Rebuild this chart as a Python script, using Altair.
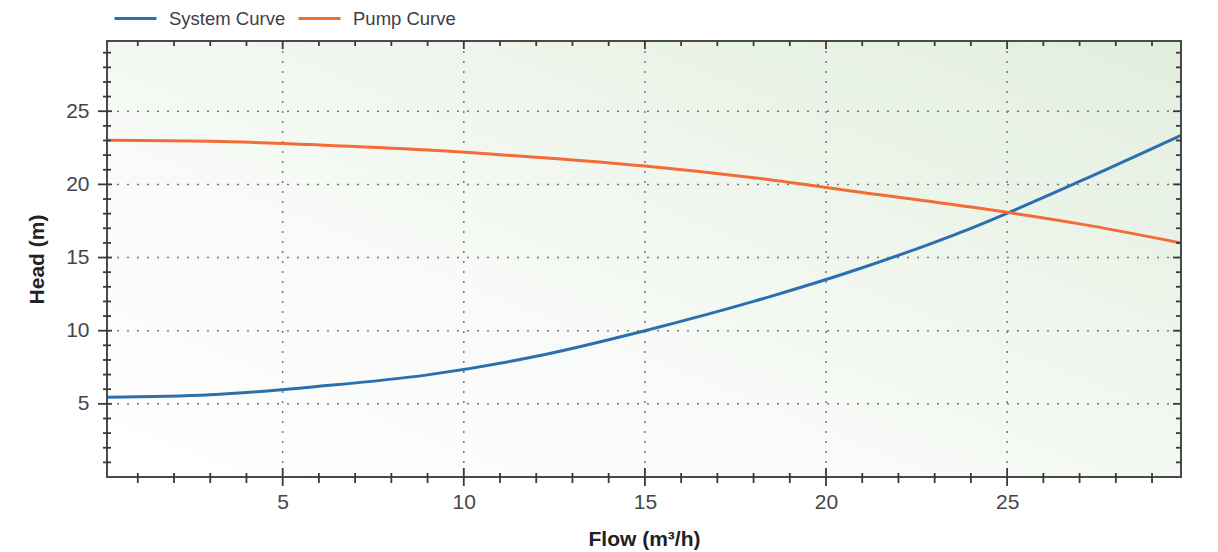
import altair as alt
import pandas as pd

# ---- data ----
flow = [0.15, 3, 6, 9, 12, 15, 18, 21, 24, 27, 29.8]
system_head = [5.45, 5.62, 6.2, 6.98, 8.25, 10.0, 12.0, 14.3, 17.0, 20.2, 23.35]
pump_head = [23.02, 22.95, 22.7, 22.35, 21.85, 21.25, 20.45, 19.45, 18.45, 17.3, 16.0]
series = ["System Curve", "Pump Curve"]
colors = ["#2b6fb0", "#f36b36"]
major_ticks = [5, 10, 15, 20, 25]
minor_ticks = [1, 2, 3, 4, 6, 7, 8, 9, 11, 12, 13, 14, 16, 17, 18, 19,
               21, 22, 23, 24, 26, 27, 28, 29]

W, H = 1074, 436
FONT = "Liberation Sans"

lines_df = pd.DataFrame({
    "x": flow + flow,
    "y": system_head + pump_head,
    "series": [series[0]] * len(flow) + [series[1]] * len(flow),
    "order": list(range(len(flow))) * 2,
})
major_df = pd.DataFrame({"x": major_ticks, "y": major_ticks})
minor_df = pd.DataFrame({"x": minor_ticks, "y": minor_ticks})
one = pd.DataFrame({"a": [0]})

xs = alt.Scale(domain=[0.15, 29.8], nice=False, zero=False)
ys = alt.Scale(domain=[0, 29.8], nice=False, zero=False)

xaxis = alt.Axis(values=major_ticks, ticks=False, domain=False, grid=False,
                 labelFontSize=21, labelFont=FONT, labelColor="#45454d",
                 labelPadding=14, title="Flow (m³/h)", titleFont=FONT,
                 titleFontSize=21, titleFontWeight="bold", titleColor="#222222",
                 titleX=W / 2, titleY=62, titleBaseline="middle")
yaxis = alt.Axis(values=major_ticks, ticks=False, domain=False, grid=False,
                 labelFontSize=21, labelFont=FONT, labelColor="#45454d",
                 labelPadding=18, title="Head (m)", titleFont=FONT,
                 titleFontSize=21, titleFontWeight="bold", titleColor="#222222",
                 titleX=-70, titleY=H / 2, titleBaseline="middle", titleAngle=-90)

def X():
    return alt.X("x:Q", scale=xs, axis=xaxis, title="Flow (m³/h)")

def Y():
    return alt.Y("y:Q", scale=ys, axis=yaxis, title="Head (m)")

bg = alt.Chart(one).mark_rect(
    fill=alt.Gradient(
        gradient="linear",
        stops=[alt.GradientStop(color="#ffffff", offset=0),
               alt.GradientStop(color="#f7faf6", offset=0.4),
               alt.GradientStop(color="#e2eede", offset=1)],
        x1=0, y1=1, x2=1, y2=0),
).encode(x=alt.value(0), x2=alt.value(W), y=alt.value(0), y2=alt.value(H))

grid_style = dict(color="#777777", strokeDash=[2, 8], strokeWidth=1.5)
grid_x = alt.Chart(major_df).mark_rule(**grid_style).encode(
    x=X(), y=alt.value(0), y2=alt.value(H))
grid_y = alt.Chart(major_df).mark_rule(**grid_style).encode(
    y=Y(), x=alt.value(0), x2=alt.value(W))

lines = alt.Chart(lines_df).mark_line(strokeWidth=3, interpolate="monotone").encode(
    x=X(), y=Y(),
    order="order:Q",
    color=alt.Color("series:N", scale=alt.Scale(domain=series, range=colors),
                    legend=alt.Legend(orient="none", legendX=6, legendY=-45,
                                      direction="horizontal", title=None,
                                      symbolType="stroke", symbolSize=1764,
                                      symbolStrokeWidth=3, labelFontSize=18.5,
                                      labelFont=FONT, labelColor="#3d3d47",
                                      labelOffset=11, columnPadding=6,
                                      padding=0)),
)

frame = alt.Chart(one).mark_rect(filled=False, stroke="#4a4a4a", strokeWidth=2).encode(
    x=alt.value(0), x2=alt.value(W), y=alt.value(0), y2=alt.value(H))

tick_style = dict(color="#3a3a3a", strokeWidth=1.8)
ticks = [
    # bottom
    alt.Chart(minor_df).mark_rule(**tick_style).encode(x=X(), y=alt.value(H - 4), y2=alt.value(H + 6)),
    alt.Chart(major_df).mark_rule(**tick_style).encode(x=X(), y=alt.value(H - 9), y2=alt.value(H + 9)),
    # top
    alt.Chart(minor_df).mark_rule(**tick_style).encode(x=X(), y=alt.value(0), y2=alt.value(5)),
    alt.Chart(major_df).mark_rule(**tick_style).encode(x=X(), y=alt.value(0), y2=alt.value(8)),
    # left
    alt.Chart(minor_df).mark_rule(**tick_style).encode(y=Y(), x=alt.value(-4), x2=alt.value(4)),
    alt.Chart(major_df).mark_rule(**tick_style).encode(y=Y(), x=alt.value(-9), x2=alt.value(5)),
    # right
    alt.Chart(minor_df).mark_rule(**tick_style).encode(y=Y(), x=alt.value(W - 5), x2=alt.value(W)),
    alt.Chart(major_df).mark_rule(**tick_style).encode(y=Y(), x=alt.value(W - 8), x2=alt.value(W)),
]

chart = alt.layer(bg, grid_x, grid_y, lines, frame, *ticks).properties(
    width=W, height=H,
    padding={"left": 99, "top": 33, "right": 29, "bottom": 80},
    autosize=alt.AutoSizeParams(type="none"),
    background="white",
).configure_view(stroke=None)

chart.save("out.html", embed_options={"renderer": "svg", "actions": False})
